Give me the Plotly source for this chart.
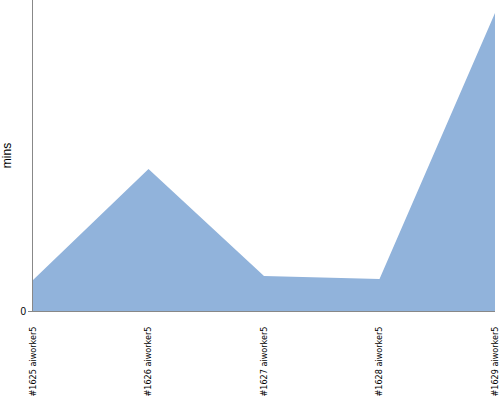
import plotly.graph_objects as go

categories = ["#1625 aiworker5", "#1626 aiworker5", "#1627 aiworker5", "#1628 aiworker5", "#1629 aiworker5"]
values = [31, 142, 35, 32, 298]

fig = go.Figure()
fig.add_trace(go.Scatter(
    x=categories, y=values, mode="lines", fill="tozeroy",
    line=dict(width=0, color="#91b3db"), fillcolor="#91b3db",
    hoverinfo="skip", showlegend=False, cliponaxis=False,
))
fig.update_layout(
    width=500, height=400,
    margin=dict(l=33, r=5, t=0, b=89, pad=0),
    paper_bgcolor="white", plot_bgcolor="white",
    font=dict(family="Arial, Liberation Sans, sans-serif", size=10, color="#000"),
)
fig.update_xaxes(
    type="category", range=[0, 4], showgrid=False, zeroline=False, automargin=False,
    showline=True, linecolor="#888", linewidth=1,
    tickangle=-90, ticks="", ticklabelstandoff=11,
    tickfont=dict(size=9, family="DejaVu Sans Condensed, Liberation Sans Narrow, Arial, sans-serif"),
)
fig.update_yaxes(
    range=[0, 311], showgrid=False, zeroline=False, automargin=False,
    showline=True, linecolor="#888", linewidth=1,
    tickvals=[0], ticktext=["0"], ticks="outside", ticklen=4, tickcolor="#888",
    title=dict(text="mins", font=dict(size=12), standoff=6),
)
fig.write_html("out.html", config={"displayModeBar": False},
               post_script="document.body.style.margin='0';document.body.style.overflow='hidden';")
